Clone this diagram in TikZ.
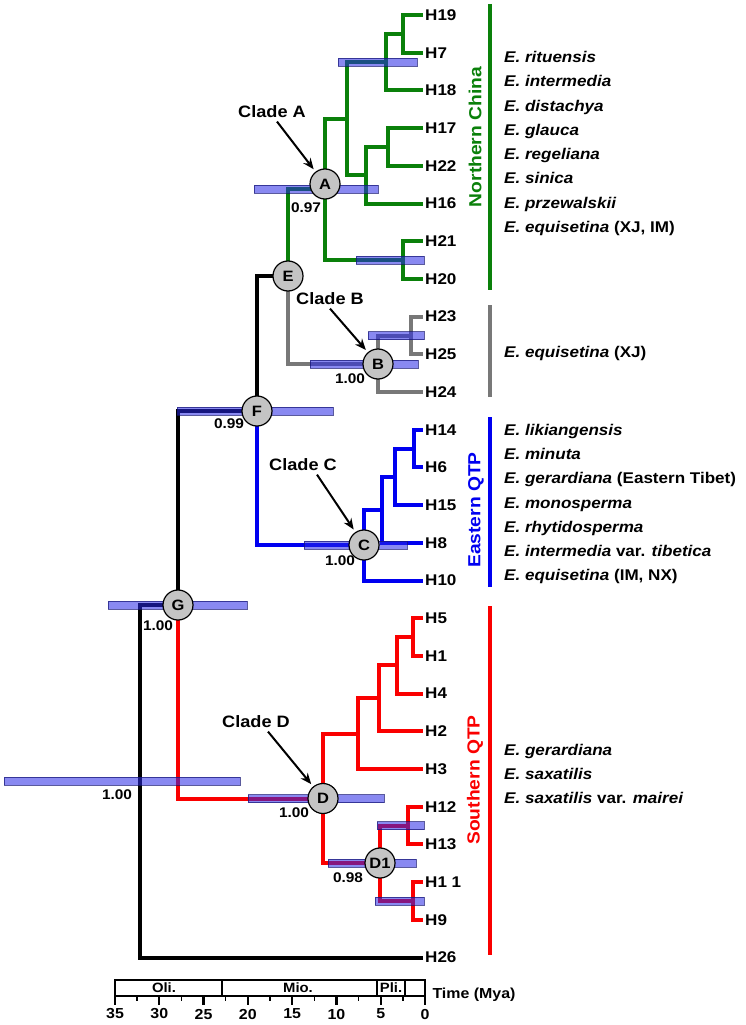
\documentclass[tikz,border=0pt]{standalone}
\usepackage{fontspec}
\setmainfont{Liberation Sans}[FakeStretch=1.1]
\usetikzlibrary{arrows.meta}
\definecolor{cladegreen}{RGB}{10,128,10}
\definecolor{cladegray}{RGB}{120,120,120}
\definecolor{cladeblue}{RGB}{0,0,240}
\definecolor{cladered}{RGB}{250,0,0}
\definecolor{hpdfill}{RGB}{40,40,230}
\tikzset{
  branch/.style={line width=4pt},
  tip/.style={anchor=west, inner sep=2pt, font=\bfseries\fontsize{15.5}{18}\selectfont},
  hpd/.style={fill=hpdfill, fill opacity=0.55, draw=hpdfill!50!black, draw opacity=0.7, line width=0.6pt},
  clade/.style={circle, draw, line width=1.2pt, fill=black!23, minimum size=30pt, inner sep=0pt, font=\bfseries\fontsize{15}{17}\selectfont},
  support/.style={font=\bfseries\fontsize{14}{16}\selectfont},
  callout/.style={font=\bfseries\fontsize{16.5}{19}\selectfont},
  pointer/.style={line width=2pt, -{Stealth[length=11pt,width=9pt]}, shorten >=3pt},
  species/.style={anchor=base west, inner sep=0pt, font=\bfseries\fontsize{15.5}{18}\selectfont},
  region/.style={rotate=90, font=\bfseries\fontsize{17.5}{20}\selectfont},
  epoch/.style={font=\bfseries\fontsize{13.5}{16}\selectfont}
}
\begin{document}
\begin{tikzpicture}[x=1pt, y=-1pt]
\useasboundingbox (0,0) rectangle (745,1025);

% haplotypes
\foreach \n/\t/\y in {h19/H19/15, h7/H7/52.7, h18/H18/90.4, h17/H17/128.1, h22/H22/165.8, h16/H16/203.5, h21/H21/241.2, h20/H20/278.9, h23/H23/316.6, h25/H25/354.3, h24/H24/392, h14/H14/429.7, h6/H6/467.4, h15/H15/505.1, h8/H8/542.8, h10/H10/580.5, h5/H5/618.2, h1/H1/655.9, h4/H4/693.6, h2/H2/731.3, h3/H3/769, h12/H12/806.7, h13/H13/844.4, h11/H1 1/882.1, h9/H9/919.8, h26/H26/957.5}
  \node[tip] (\n) at (423,\y) {\t};

% internal nodes
\coordinate (n1) at (403,34);
\coordinate (n2) at (386,62);
\coordinate (n3) at (388,147);
\coordinate (n4) at (366,175);
\coordinate (n5) at (347,119);
\coordinate (n6) at (403,260);
\coordinate (nA) at (325,189);
\coordinate (n7) at (411,335.5);
\coordinate (nB) at (378,364);
\coordinate (nE) at (288,276);
\coordinate (n8) at (414,448.5);
\coordinate (n9) at (395,477);
\coordinate (n10) at (382,510);
\coordinate (nC) at (364,545);
\coordinate (nF) at (257,411);
\coordinate (n11) at (413,637);
\coordinate (n12) at (397,665);
\coordinate (n13) at (379,698);
\coordinate (n14) at (358,734);
\coordinate (n15) at (408,825.5);
\coordinate (n16) at (413,901);
\coordinate (nD1) at (380,863);
\coordinate (nD) at (323,798.5);
\coordinate (nG) at (178,605);
\coordinate (nR) at (140,781);

% Northern China
\draw[branch, cladegreen] (nE) |- (nA) (nA) |- (n5) (nA) |- (n6)
  (n5) |- (n2) (n5) |- (n4) (n2) |- (n1) (n2) |- (h18.west)
  (n1) |- (h19.west) (n1) |- (h7.west) (n4) |- (n3) (n4) |- (h16.west)
  (n3) |- (h17.west) (n3) |- (h22.west) (n6) |- (h21.west) (n6) |- (h20.west);
% clade B
\draw[branch, cladegray] (nE) |- (nB) (nB) |- (n7) (nB) |- (h24.west)
  (n7) |- (h23.west) (n7) |- (h25.west);
% Eastern QTP
\draw[branch, cladeblue] (nF) |- (nC) (nC) |- (n10) (nC) |- (h10.west)
  (n10) |- (n9) (n10) |- (h8.west) (n9) |- (n8) (n9) |- (h15.west)
  (n8) |- (h14.west) (n8) |- (h6.west);
% Southern QTP
\draw[branch, cladered] (nG) |- (nD) (nD) |- (n14) (nD) |- (nD1)
  (n14) |- (n13) (n14) |- (h3.west) (n13) |- (n12) (n13) |- (h2.west)
  (n12) |- (n11) (n12) |- (h4.west) (n11) |- (h5.west) (n11) |- (h1.west)
  (nD1) |- (n15) (nD1) |- (n16) (n15) |- (h12.west) (n15) |- (h13.west)
  (n16) |- (h11.west) (n16) |- (h9.west);
% backbone
\draw[branch] (nF) |- (nE) (nG) |- (nF) (nR) |- (nG) (nR) |- (h26.west);

% 95% HPD bars
\foreach \y/\a/\b in {62/338/417, 189/254/378, 260/356/424, 335.5/368/424, 364/310/418, 411/177/333, 545/304/407, 605/108/247, 781/4/240, 798.5/248/384, 825.5/377/424, 863/328/416, 901/375/424}
  \draw[hpd] (\a,\y-4) rectangle (\b,\y+4);

% node circles
\node[clade] (cA) at ([yshift=5pt]nA) {A};
\node[clade] (cB) at (nB) {B};
\node[clade] (cC) at (nC) {C};
\node[clade] (cD) at (nD) {D};
\node[clade] (cD1) at (nD1) {D1};
\node[clade] (cE) at (nE) {E};
\node[clade] (cF) at (nF) {F};
\node[clade] (cG) at (nG) {G};

% posterior probabilities
\node[support] (sA) at (306,208) {0.97};
\node[support] (sB) at (350,379) {1.00};
\node[support] (sF) at (229,424) {0.99};
\node[support] (sC) at (340,561) {1.00};
\node[support] (sG) at (158,626) {1.00};
\node[support] (sR) at (117,795) {1.00};
\node[support] (sD) at (294,813) {1.00};
\node[support] (sD1) at (348,878) {0.98};

% clade call-outs
\node[callout] (lblA) at (272,112) {Clade A};
\node[callout] (lblB) at (330,299) {Clade B};
\node[callout] (lblC) at (303,465) {Clade C};
\node[callout] (lblD) at (256,722) {Clade D};
\draw[pointer] ([xshift=5pt]lblA.south) -- (cA);
\draw[pointer] (lblB.south) -- (cB);
\draw[pointer] ([xshift=14pt]lblC.south) -- (cC);
\draw[pointer] ([xshift=12pt]lblD.south) -- (cD);

% regions
\draw[line width=4pt, cladegreen] (490,4) -- (490,290);
\draw[line width=4pt, cladegray] (490,305) -- (490,397);
\draw[line width=4pt, cladeblue] (490,417) -- (490,587);
\draw[line width=4pt, cladered] (490,606) -- (490,955);
\node[region, cladegreen] (north) at (475,137) {Northern China};
\node[region, cladeblue] (east) at (476,510) {Eastern QTP};
\node[region, cladered] (south) at (475,780) {Southern QTP};

% species
\foreach \t [count=\i from 0] in {\textit{E. rituensis}, \textit{E. intermedia}, \textit{E. distachya}, \textit{E. glauca}, \textit{E. regeliana}, \textit{E. sinica}, \textit{E. przewalskii}, {\textit{E. equisetina} (XJ, IM)}}
  \node[species] (spn\i) at (504,62.5+24.25*\i) {\t};
\node[species] (spx) at (504,357.5) {\textit{E. equisetina} (XJ)};
\foreach \t [count=\i from 0] in {\textit{E. likiangensis}, \textit{E. minuta}, \textit{E. gerardiana} (Eastern Tibet), \textit{E. monosperma}, \textit{E. rhytidosperma}, \textit{E. intermedia} var. \textit{tibetica}, {\textit{E. equisetina} (IM, NX)}}
  \node[species] (spe\i) at (504,435.5+24.2*\i) {\t};
\foreach \t [count=\i from 0] in {\textit{E. gerardiana}, \textit{E. saxatilis}, \textit{E. saxatilis} var. \textit{mairei}}
  \node[species] (sps\i) at (504,755.5+24*\i) {\t};

% time scale
\draw[line width=2.5pt] (115,980) rectangle (425,996);
\draw[line width=1.2pt] (222,980) -- (222,996) (377,980) -- (377,996) (405,980) -- (405,996);
\node[epoch] (oli) at (164,988) {Oli.};
\node[epoch] (mio) at (298,988) {Mio.};
\node[epoch] (pli) at (391,988) {Pli.};
\foreach \t in {0,5,...,35} {
  \draw[line width=2.2pt] ({425-8.857*\t},996) -- ({425-8.857*\t},1005);
  \node[epoch, font=\bfseries\fontsize{14.5}{16}\selectfont] (tick\t) at ({425-8.857*\t},1014) {\t};
}
\foreach \t in {2.5,7.5,...,32.5}
  \draw[line width=1.5pt] ({425-8.857*\t},996) -- ({425-8.857*\t},1001);
\node[epoch, anchor=base west, font=\bfseries\fontsize{14.5}{16}\selectfont] (time) at (429,998) {Time (Mya)};
\end{tikzpicture}
\end{document}
